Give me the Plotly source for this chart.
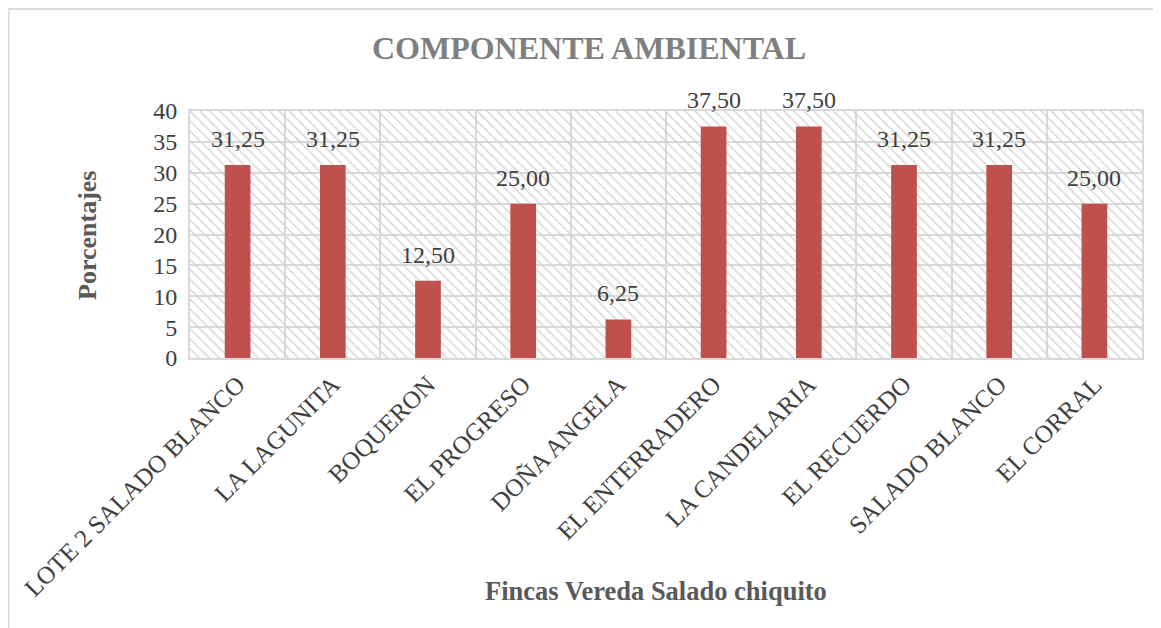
import plotly.graph_objects as go

# ---- data ----
fincas = ["LOTE 2 SALADO BLANCO", "LA LAGUNITA", "BOQUERON", "EL PROGRESO",
          "DOÑA ANGELA", "EL ENTERRADERO", "LA CANDELARIA", "EL RECUERDO",
          "SALADO BLANCO", "EL CORRAL"]
porcentajes = [31.25, 31.25, 12.50, 25.00, 6.25, 37.50, 37.50, 31.25, 31.25, 25.00]
y_ticks = [0, 5, 10, 15, 20, 25, 30, 35, 40]
y_max = 40

title_text = "COMPONENTE AMBIENTAL"
x_title = "Fincas Vereda Salado chiquito"
y_title = "Porcentajes"

# ---- layout geometry (page pixels, page has an 8px body margin) ----
W, H = 1161, 628
OFF = 7
PL, PR, PT, PB = 189, 1141, 110, 357          # plot area in page pixels
L, T = PL - OFF, PT - OFF
R, B = W - (PR - OFF), H - (PB - OFF)
PW, PH = PR - PL, PB - PT

def px_x(px):
    return (px - PL) / PW

def px_y(py):
    return (PB - py) / PH

FONT = "Liberation Serif, Times New Roman, serif"
GRID = "#d9d9d9"

fig = go.Figure()

# hatched plot-area background
fig.add_trace(go.Bar(
    x=fincas, y=[y_max] * len(fincas), width=1,
    marker=dict(color="rgba(0,0,0,0)", line=dict(width=0),
                pattern=dict(shape="\\", fgcolor="#d0d0d0", bgcolor="rgba(0,0,0,0)",
                             size=7, solidity=0.18, fillmode="replace")),
    hoverinfo="skip", showlegend=False,
))

fig.add_trace(go.Bar(
    x=fincas, y=porcentajes, width=0.27,
    marker=dict(color="#C0504D", line=dict(width=0)),
    showlegend=False,
))

labels = [
    dict(x=f, y=v, text=f"{v:.2f}".replace(".", ","), xref="x", yref="y",
         showarrow=False, xanchor="center", yanchor="bottom", yshift=11,
         font=dict(family=FONT, size=24, color="#404040"))
    for f, v in zip(fincas, porcentajes)
]

fig.update_layout(
    width=W, height=H,
    margin=dict(l=L, r=R, t=T, b=B, autoexpand=False),
    paper_bgcolor="white", plot_bgcolor="white",
    barmode="overlay",
    font=dict(family=FONT, color="#404040"),
    title=dict(text=title_text, x=(588 - OFF) / W, y=1 - (47 - OFF) / H,
               xanchor="center", yanchor="middle",
               font=dict(family=FONT, size=32, color="#7f7f7f", weight="bold")),
    xaxis=dict(tickangle=-45, tickson="boundaries", showgrid=True, gridcolor=GRID, gridwidth=2,
               showline=True, linecolor=GRID, linewidth=2, mirror=True, ticks="",
               tickfont=dict(family=FONT, size=25, color="#404040")),
    yaxis=dict(range=[0, y_max], tickvals=y_ticks, showgrid=True, gridcolor=GRID, gridwidth=2,
               showline=True, linecolor=GRID, linewidth=2, mirror=True, ticks="",
               zeroline=False, ticklabelstandoff=6,
               tickfont=dict(family=FONT, size=24, color="#404040")),
    annotations=labels + [
        dict(text=f"<b>{x_title}</b>", xref="paper", yref="paper",
             x=px_x(655), y=px_y(590), xanchor="center", yanchor="middle", showarrow=False,
             font=dict(family=FONT, size=26.5, color="#595959")),
        dict(text=f"<b>{y_title}</b>", xref="paper", yref="paper", textangle=-90,
             x=px_x(86), y=px_y(235), xanchor="center", yanchor="middle", showarrow=False,
             font=dict(family=FONT, size=26, color="#595959")),
    ],
    shapes=[
        dict(type="line", xref="paper", yref="paper", x0=px_x(7), x1=px_x(W + 20),
             y0=px_y(8), y1=px_y(8), line=dict(color=GRID, width=2)),
        dict(type="line", xref="paper", yref="paper", x0=px_x(7.5), x1=px_x(7.5),
             y0=px_y(8), y1=px_y(H + 20), line=dict(color=GRID, width=2)),
    ],
)

fig.write_html("out.html")
